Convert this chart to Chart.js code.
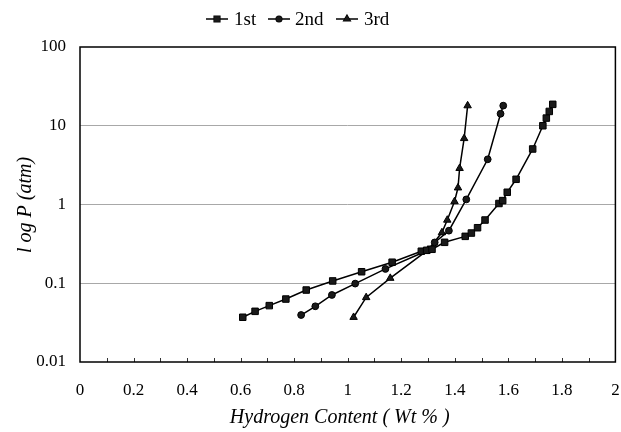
<!DOCTYPE html>
<html>
<head>
<meta charset="utf-8">
<script src="https://cdn.jsdelivr.net/npm/chart.js@4"></script>
<style>
html,body{margin:0;padding:0;background:#fff;}
#wrap{width:621px;height:432px;position:relative;}
</style>
</head>
<body>
<div id="wrap"><canvas id="c" width="621" height="432"></canvas></div>
<script>
const seriesNames = ['1st', '2nd', '3rd'];
const x1 = [0.608,0.654,0.707,0.769,0.845,0.944,1.052,1.166,1.275,1.295,1.315,1.362,1.439,1.462,1.485,1.513,1.565,1.579,1.596,1.629,1.691,1.729,1.742,1.753,1.766];
const y1 = [0.037,0.044,0.052,0.063,0.082,0.107,0.140,0.185,0.255,0.262,0.270,0.331,0.394,0.434,0.507,0.635,1.03,1.12,1.43,2.09,5.07,10.0,12.5,15.2,18.7];
const x2 = [0.826,0.879,0.941,1.028,1.141,1.300,1.325,1.378,1.443,1.523,1.571,1.581];
const y2 = [0.0395,0.051,0.071,0.099,0.152,0.262,0.33,0.465,1.16,3.75,14.2,18.0];
const x3 = [1.022,1.069,1.159,1.300,1.352,1.372,1.399,1.412,1.418,1.435,1.448];
const y3 = [0.037,0.066,0.116,0.265,0.44,0.635,1.09,1.63,2.88,6.9,18.0];
const yTicks = [0.01, 0.1, 1, 10, 100];
const xTitle = 'Hydrogen Content ( Wt % )';
const yTitle = 'l og P (atm)';

const FONT = '"Liberation Serif", "DejaVu Serif", serif';
const pts = (xs, ys) => xs.map((x, i) => ({x: x, y: ys[i]}));
const styles = ['rect', 'circle', 'triangle'];
const radii = [4.6, 3.4, 4.3];

const datasets = [[x1,y1],[x2,y2],[x3,y3]].map((d, i) => ({
  label: seriesNames[i],
  data: pts(d[0], d[1]),
  borderColor: '#000',
  backgroundColor: '#000',
  borderWidth: 1.5,
  pointStyle: styles[i],
  pointRadius: radii[i],
  pointBorderWidth: 1,
  pointBackgroundColor: '#1a1a1a',
  pointBorderColor: '#000',
  tension: 0,
  showLine: true
}));

const decor = {
  id: 'decor',
  afterDraw(chart) {
    const ctx = chart.ctx, a = chart.chartArea, xs = chart.scales.x;
    ctx.save();
    ctx.strokeStyle = '#333';
    ctx.lineWidth = 1;
    for (let k = 1; k < 20; k++) {
      const px = Math.round(xs.getPixelForValue(k / 10)) + 0.5;
      ctx.beginPath();
      ctx.moveTo(px, a.bottom);
      ctx.lineTo(px, a.bottom - 4);
      ctx.stroke();
    }
    ctx.strokeStyle = '#000';
    ctx.lineWidth = 1.5;
    ctx.strokeRect(a.left, a.top, a.right - a.left, a.bottom - a.top);
    ctx.fillStyle = '#000';
    ctx.font = 'italic 20px ' + FONT;
    ctx.textAlign = 'center';
    ctx.textBaseline = 'middle';
    ctx.fillText(xTitle, (a.left + a.right) / 2 - 8, 418);
    ctx.save();
    ctx.translate(26, 205);
    ctx.rotate(-Math.PI / 2);
    ctx.fillText(yTitle, 0, 0);
    ctx.restore();
    const items = [{sx: 217, tx: 234}, {sx: 279, tx: 295}, {sx: 347, tx: 364}];
    const ly = 19;
    ctx.font = '19px ' + FONT;
    ctx.textAlign = 'left';
    items.forEach((it, i) => {
      ctx.strokeStyle = '#000';
      ctx.lineWidth = 1.5;
      ctx.beginPath();
      ctx.moveTo(it.sx - 11, ly);
      ctx.lineTo(it.sx + 11, ly);
      ctx.stroke();
      Chart.helpers.drawPoint(ctx, {pointStyle: styles[i], radius: radii[i] - 0.6, borderWidth: 1}, it.sx, ly);
      ctx.fillStyle = '#1a1a1a';
      ctx.fill();
      ctx.fillStyle = '#000';
      ctx.fillText(seriesNames[i], it.tx, ly + 1);
    });
    ctx.restore();
  }
};

new Chart(document.getElementById('c'), {
  type: 'scatter',
  data: {datasets: datasets},
  options: {
    responsive: false,
    animation: false,
    devicePixelRatio: 1,
    layout: {padding: {top: 47, right: 5, left: 0, bottom: 0}},
    plugins: {legend: {display: false}, tooltip: {enabled: false}},
    scales: {
      x: {
        type: 'linear', min: 0, max: 2,
        afterFit(s) { s.height = 70; s.paddingLeft = 0; s.paddingRight = 0; },
        ticks: {
          stepSize: 0.2,
          padding: 18,
          color: '#000',
          font: {family: FONT, size: 17},
          maxRotation: 0,
          autoSkip: false,
          callback: v => String(parseFloat(Number(v).toFixed(1)))
        },
        grid: {display: true, drawOnChartArea: false, drawTicks: false},
        border: {display: false}
      },
      y: {
        type: 'logarithmic', min: 0.01, max: 100,
        afterFit(s) { s.width = 80; s.paddingTop = 0; s.paddingBottom = 0; },
        afterBuildTicks(s) { s.ticks = yTicks.map(v => ({value: v})); },
        ticks: {
          padding: 14,
          color: '#000',
          font: {family: FONT, size: 17},
          autoSkip: false,
          callback: v => String(v)
        },
        grid: {
          drawTicks: false,
          color: c => (c.tick && (c.tick.value === 0.01 || c.tick.value === 100)) ? 'rgba(0,0,0,0)' : '#a8a8a8',
          lineWidth: 1
        },
        border: {display: false}
      }
    }
  },
  plugins: [decor]
});
</script>
</body>
</html>
